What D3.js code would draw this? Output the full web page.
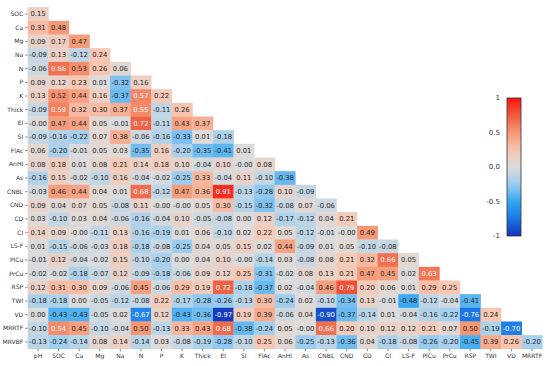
<!DOCTYPE html>
<html>
  <head>
    <meta charset="utf-8">
    <script src="https://d3js.org/d3.v7.min.js"></script>
    <style>
      body { margin: 0; background: #fff; }
      text { font-family: "DejaVu Sans", sans-serif; }
    </style>
  </head>
<body>
  <script type="text/javascript">
    // column variables (x axis) and row variables (y axis)
    var cols = ["pH", "SOC", "Ca", "Mg", "Na", "N", "P", "K", "Thick", "El", "SI", "FlAc", "AnHI",
                "As", "CNBL", "CND", "CD", "CI", "LS-F", "PlCu", "PrCu", "RSP", "TWI", "VD", "MRRTF"];
    var rows = ["SOC", "Ca", "Mg", "Na", "N", "P", "K", "Thick", "El", "SI", "FlAc", "AnHI", "As",
                "CNBL", "CND", "CD", "CI", "LS-F", "PlCu", "PrCu", "RSP", "TWI", "VD", "MRRTF", "MRVBF"];

    // lower triangle, one list per row (values start at pH); -0.00 kept as negative zero
    var corr = [
      [0.15],
      [0.31, 0.48],
      [0.09, 0.17, 0.47],
      [-0.09, 0.13, -0.12, 0.24],
      [-0.06, 0.66, 0.53, 0.26, 0.06],
      [0.09, 0.12, 0.23, 0.01, -0.32, 0.16],
      [0.13, 0.52, 0.44, 0.16, -0.37, 0.57, 0.22],
      [-0.09, 0.59, 0.32, 0.30, 0.37, 0.55, -0.11, 0.26],
      [-0.00, 0.47, 0.44, 0.05, -0.01, 0.72, -0.11, 0.43, 0.37],
      [-0.09, -0.16, -0.22, 0.07, 0.38, -0.06, -0.16, -0.33, 0.01, -0.18],
      [0.06, -0.20, -0.01, 0.05, 0.03, -0.35, 0.16, -0.20, -0.35, -0.41, 0.01],
      [0.08, 0.18, 0.01, 0.08, 0.21, 0.14, 0.18, 0.10, -0.04, 0.10, -0.00, 0.08],
      [-0.16, 0.15, -0.02, -0.10, 0.16, -0.04, -0.02, -0.25, 0.33, -0.04, 0.11, -0.10, -0.38],
      [-0.03, 0.46, 0.44, 0.04, 0.01, 0.68, -0.12, 0.47, 0.36, 0.91, -0.13, -0.28, 0.10, -0.09],
      [0.09, 0.04, 0.07, 0.05, -0.08, 0.11, -0.00, -0.00, 0.05, 0.30, -0.15, -0.32, -0.08, 0.07, -0.06],
      [0.03, -0.10, 0.03, 0.04, -0.06, -0.16, -0.04, 0.10, -0.05, -0.08, 0.00, 0.12, -0.17, -0.12, 0.04, 0.21],
      [0.14, 0.09, -0.00, -0.11, 0.13, -0.16, -0.19, 0.01, 0.06, -0.10, 0.02, 0.22, 0.05, -0.12, -0.01, -0.00, 0.49],
      [0.01, -0.15, -0.06, -0.03, 0.18, -0.18, -0.08, -0.25, 0.04, 0.05, 0.15, 0.02, 0.44, -0.09, 0.01, 0.05, -0.10, -0.08],
      [-0.01, 0.12, -0.04, -0.02, 0.15, -0.10, -0.20, 0.00, 0.04, 0.10, -0.00, -0.14, 0.03, -0.08, 0.08, 0.21, 0.32, 0.66, 0.05],
      [-0.02, -0.02, -0.18, -0.07, 0.12, -0.09, -0.18, -0.06, 0.09, 0.12, 0.25, -0.31, -0.02, 0.08, 0.13, 0.21, 0.47, 0.45, 0.02, 0.63],
      [0.12, 0.31, 0.30, 0.09, -0.06, 0.45, -0.06, 0.29, 0.19, 0.72, -0.18, -0.37, 0.02, -0.04, 0.46, 0.79, 0.20, 0.06, 0.01, 0.29, 0.25],
      [-0.18, -0.18, 0.00, -0.05, -0.12, -0.08, 0.22, -0.17, -0.28, -0.26, -0.13, 0.30, -0.24, 0.02, -0.10, -0.34, 0.13, -0.01, -0.48, -0.12, -0.04, -0.41],
      [0.00, -0.43, -0.43, -0.05, 0.02, -0.67, 0.12, -0.43, -0.36, -0.97, 0.19, 0.39, -0.06, 0.04, -0.90, -0.37, -0.14, 0.01, -0.04, -0.16, -0.22, -0.76, 0.24],
      [-0.10, 0.54, 0.45, -0.10, -0.04, 0.50, -0.13, 0.33, 0.43, 0.68, -0.38, -0.24, 0.05, -0.00, 0.66, 0.20, 0.10, 0.12, 0.12, 0.21, 0.07, 0.50, -0.19, -0.70],
      [-0.13, -0.24, -0.14, 0.08, 0.14, -0.14, 0.03, -0.08, -0.19, -0.28, -0.10, 0.25, 0.06, -0.25, -0.13, -0.36, 0.04, -0.18, -0.08, -0.26, -0.20, -0.45, 0.39, 0.26, -0.20]
    ];

    var barTicks = [1, 0.5, 0, -0.5, -1];
    var barLabels = ["1", "0.5", "0.0", "-0.5", "-1"];

    var width = 550,
        height = 366;

    var svg = d3.select("body")
        .append("svg")
          .attr("width", width)
          .attr("height", height);

    var x = d3.scaleBand().domain(cols).range([27.7, 542.3]);
    var y = d3.scaleBand().domain(rows).range([7.2, 348.8]);

    var color = d3.scaleLinear()
        .domain([-1, -0.75, -0.5, -0.25, 0, 0.25, 0.5, 0.75, 1])
        .range(["#1434b8", "#1a78e4", "#33a6f0", "#9ccdf0", "#dcdcdc",
                "#f8c6b2", "#f59674", "#f05a3c", "#ff1010"]);

    // flatten into cells
    var cells = [];
    corr.forEach(function (r, i) {
      r.forEach(function (v, j) {
        cells.push({ row: rows[i], col: cols[j], v: v });
      });
    });

    var fmt = function (v) {
      if (Object.is(v, -0)) return "-0.00";
      return v.toFixed(2);
    };

    var g = svg.append("g");

    g.selectAll("rect.cell")
        .data(cells)
        .enter()
        .append("rect")
          .attr("class", "cell")
          .attr("x", function (d) { return x(d.col); })
          .attr("y", function (d) { return y(d.row); })
          .attr("width", x.bandwidth() + 0.3)
          .attr("height", y.bandwidth() + 0.3)
          .attr("fill", function (d) { return color(d.v); });

    g.selectAll("text.val")
        .data(cells)
        .enter()
        .append("text")
          .attr("class", "val")
          .attr("x", function (d) { return x(d.col) + x.bandwidth() / 2; })
          .attr("y", function (d) { return y(d.row) + y.bandwidth() / 2; })
          .attr("dy", "0.35em")
          .attr("text-anchor", "middle")
          .style("font-size", "6.8px")
          .attr("fill", function (d) { return Math.abs(d.v) >= 0.54 ? "#ffffff" : "#262626"; })
          .text(function (d) { return fmt(d.v); });

    // axes
    var xAxis = d3.axisBottom(x).tickSize(2.5).tickPadding(2);
    var yAxis = d3.axisLeft(y).tickSize(2.5).tickPadding(2);

    svg.append("g")
        .attr("transform", "translate(0," + 348.8 + ")")
        .call(xAxis)
        .call(function (s) { s.select(".domain").remove(); })
        .selectAll("text")
          .style("font-size", "6px")
          .attr("fill", "#333");

    svg.append("g")
        .attr("transform", "translate(27.7,0)")
        .call(yAxis)
        .call(function (s) { s.select(".domain").remove(); })
        .selectAll("text")
          .style("font-size", "6px")
          .attr("fill", "#333");

    svg.selectAll(".tick line").attr("stroke", "#444").attr("stroke-width", 0.6);

    // colour bar
    var barX = 507, barW = 14, barTop = 98, barBot = 236;
    var cy = d3.scaleLinear().domain([1, -1]).range([barTop, barBot]);

    var defs = svg.append("defs");
    var grad = defs.append("linearGradient")
        .attr("id", "cbar")
        .attr("x1", 0).attr("y1", 0).attr("x2", 0).attr("y2", 1);
    d3.range(0, 1.0001, 0.05).forEach(function (t) {
      grad.append("stop")
          .attr("offset", t)
          .attr("stop-color", color(1 - 2 * t));
    });

    svg.append("rect")
        .attr("x", barX)
        .attr("y", barTop)
        .attr("width", barW)
        .attr("height", barBot - barTop)
        .attr("fill", "url(#cbar)")
        .attr("stroke", "#333")
        .attr("stroke-width", 0.8);

    svg.selectAll("text.cbl")
        .data(barTicks)
        .enter()
        .append("text")
          .attr("class", "cbl")
          .attr("x", 500)
          .attr("y", function (d) { return cy(d); })
          .attr("dy", "0.35em")
          .attr("text-anchor", "end")
          .style("font-size", "7px")
          .attr("fill", "#333")
          .text(function (d, i) { return barLabels[i]; });
  </script>
</body>
</html>
